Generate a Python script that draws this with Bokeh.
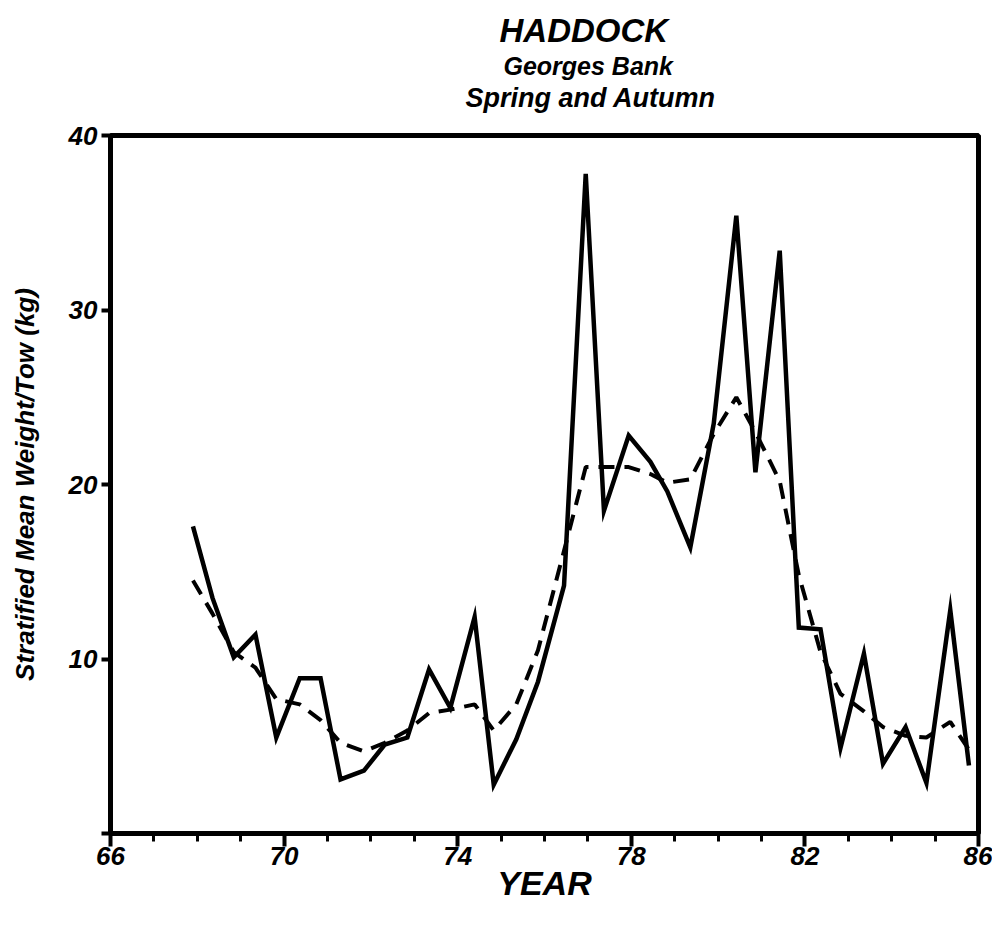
from bokeh.plotting import figure
from bokeh.models import FixedTicker, Title
from bokeh.embed import file_html
from bokeh.resources import INLINE

# Data
years = [67.90, 68.35, 68.84, 69.34, 69.82, 70.36, 70.84, 71.30, 71.84, 72.32,
         72.84, 73.34, 73.83, 74.39, 74.83, 75.35, 75.85, 76.45, 76.95, 77.37,
         77.94, 78.44, 78.83, 79.36, 79.90, 80.42, 80.86, 81.42, 81.86, 82.36,
         82.82, 83.36, 83.80, 84.32, 84.80, 85.35, 85.78]
weight_obs = [17.6, 13.5, 10.1, 11.4, 5.5, 8.9, 8.9, 3.1, 3.6, 5.1,
              5.5, 9.4, 7.2, 12.4, 2.8, 5.4, 8.7, 14.2, 37.8, 18.5,
              22.8, 21.3, 19.6, 16.4, 23.5, 35.4, 20.7, 33.4, 11.8, 11.7,
              4.9, 10.3, 4.0, 6.1, 2.9, 12.8, 3.9]
weight_smooth = [14.5, 12.6, 10.4, 9.5, 7.7, 7.4, 6.5, 5.2, 4.7, 5.2,
                 5.9, 6.9, 7.1, 7.4, 5.9, 7.4, 10.5, 16.2, 21.0, 21.0,
                 21.0, 20.6, 20.1, 20.3, 22.9, 25.0, 23.0, 20.2, 14.8, 10.4,
                 8.0, 7.0, 6.1, 5.6, 5.5, 6.4, 4.8]
x_major = [66, 70, 74, 78, 82, 86]
x_minor = list(range(66, 87))
y_major = [0, 10, 20, 30, 40]

FONT = "Liberation Sans"

p = figure(width=992, height=921, x_range=(66, 86), y_range=(0, 40),
           output_backend="svg", toolbar_location=None,
           min_border_left=110, min_border_top=135, min_border_right=14,
           min_border_bottom=88)

p.xgrid.visible = False
p.ygrid.visible = False
p.outline_line_color = "black"
p.outline_line_width = 5
p.background_fill_color = "white"
p.border_fill_color = "white"

# Titles (added bottom-up); first one is an invisible spacer
spacer = Title(text=" ", text_font=FONT, text_font_size="15px",
               text_color="white", standoff=4)
t3 = Title(text="Spring and Autumn", align="left", offset=355,
           text_font=FONT, text_font_style="bold italic",
           text_font_size="27px", text_color="black", standoff=0)
t2 = Title(text="Georges Bank", align="left", offset=393,
           text_font=FONT, text_font_style="bold italic",
           text_font_size="25px", text_color="black", standoff=2)
t1 = Title(text="HADDOCK", align="left", offset=389,
           text_font=FONT, text_font_style="bold italic",
           text_font_size="33px", text_color="black", standoff=0)
p.add_layout(spacer, "above")
p.add_layout(t3, "above")
p.add_layout(t2, "above")
p.add_layout(t1, "above")

for ax in (p.xaxis[0], p.yaxis[0]):
    ax.axis_line_width = 5
    ax.axis_line_color = "black"
    ax.major_tick_line_width = 4
    ax.major_tick_line_color = "black"
    ax.major_tick_in = 0
    ax.major_label_text_font = FONT
    ax.major_label_text_font_style = "bold italic"
    ax.major_label_text_font_size = "26px"
    ax.major_label_text_color = "black"
    ax.axis_label_text_font = FONT
    ax.axis_label_text_font_style = "bold italic"
    ax.axis_label_text_color = "black"

p.xaxis.ticker = FixedTicker(ticks=x_major, minor_ticks=x_minor)
p.xaxis.major_tick_out = 13
p.xaxis.minor_tick_out = 8
p.xaxis.minor_tick_in = 0
p.xaxis.minor_tick_line_width = 3
p.xaxis.minor_tick_line_color = "black"
p.xaxis.major_label_standoff = 0
p.xaxis.axis_label = "YEAR"
p.xaxis.axis_label_text_font_size = "34px"
p.xaxis.axis_label_standoff = -4

p.yaxis.ticker = FixedTicker(ticks=y_major, minor_ticks=[])
p.yaxis.major_label_overrides = {0: ""}
p.yaxis.major_tick_out = 9
p.yaxis.minor_tick_line_color = None
p.yaxis.major_label_standoff = 4
p.yaxis.major_label_orientation = 0
p.yaxis.axis_label = "Stratified Mean Weight/Tow (kg)"
p.yaxis.axis_label_text_font_size = "26px"
p.yaxis.axis_label_standoff = 26

p.line(years, weight_smooth, line_color="black", line_width=4,
       line_dash="16 10")
p.line(years, weight_obs, line_color="black", line_width=4.5,
       line_join="miter")

open("out.html", "w").write(file_html(p, INLINE))
